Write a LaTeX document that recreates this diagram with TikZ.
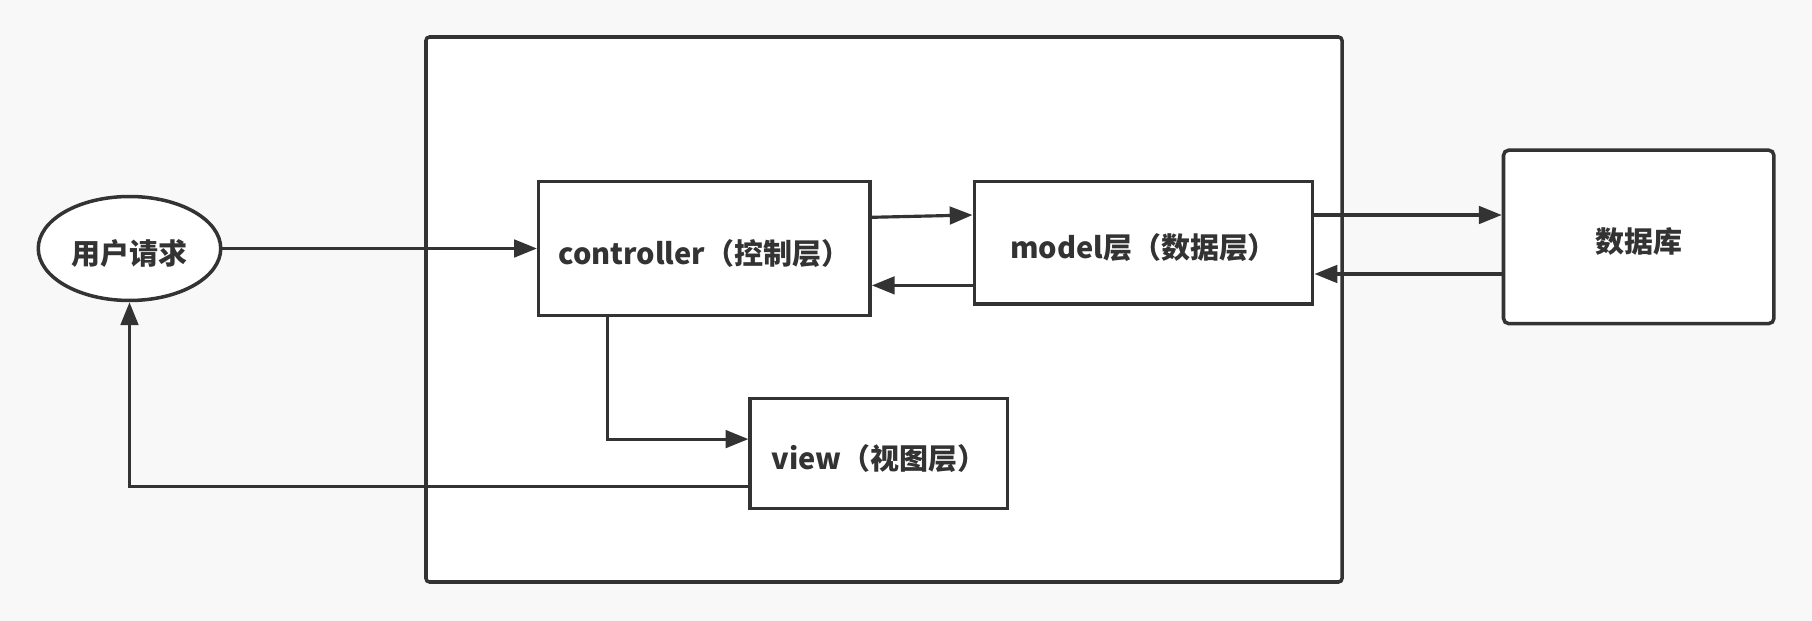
\documentclass[tikz,border=0pt]{standalone}
\usepackage{fontspec}
\setmainfont{Noto Sans CJK SC}
\usetikzlibrary{arrows.meta,shapes.geometric}

\definecolor{linegray}{HTML}{333333}
\definecolor{bggray}{HTML}{F8F8F8}

\tikzset{
  layer/.style={draw=linegray, fill=white, line width=2pt, inner sep=0pt,
                text=linegray, text height=18pt, text depth=0pt,
                font=\fontsize{16.5}{19}\selectfont\bfseries},
  flow/.style={draw=linegray, line width=1.8pt, -{Triangle[length=13pt,width=10pt]}}
}

\begin{document}
\begin{tikzpicture}[x=0.02cm,y=-0.02cm]

		% background and outer frame
		\fill[bggray] (0,0) rectangle (1812,621);
		\draw[linegray, line width=2pt, fill=white, rounded corners=2pt] (426,37) rectangle (1342,582);
		
		% nodes
		\node[layer, ellipse, minimum width=3.65cm, minimum height=2.08cm] (req) at (129.5,248.5) {用户请求};
		\node[layer, minimum width=6.63cm, minimum height=2.68cm] (ctrl) at (704.4,248.5) {controller（控制层）};
		\node[layer, minimum width=6.77cm, minimum height=2.45cm] (model) at (1143.5,242.7) {model层（数据层）};
		\node[layer, rounded corners=3pt, minimum width=5.41cm, minimum height=3.47cm] (db) at (1638.7,236.9) {数据库};
		\node[layer, minimum width=5.15cm, minimum height=2.2cm] (view) at (878.9,453.6) {view（视图层）};
		
		% request into controller
		\draw[flow] (req) -- (ctrl);
		
		% controller <-> model
		\draw[flow] (ctrl.east |- 0,217.3) -- (model.west |- 0,215);
		\draw[flow] (model.west |- 0,285.4) -- (ctrl.east |- 0,285.4);
		
		% model <-> database
		\draw[flow] (model.east |- 0,215) -- (db.west |- 0,215);
		\draw[flow] (db.west |- 0,274) -- (model.east |- 0,274);
		
		% controller to view, view back to user
		\draw[flow] (ctrl.south -| 607.8,0) |- (view.west |- 0,439.1);
		\draw[flow] (view.west |- 0,486.5) -| (req.south);

\end{tikzpicture}
\end{document}
